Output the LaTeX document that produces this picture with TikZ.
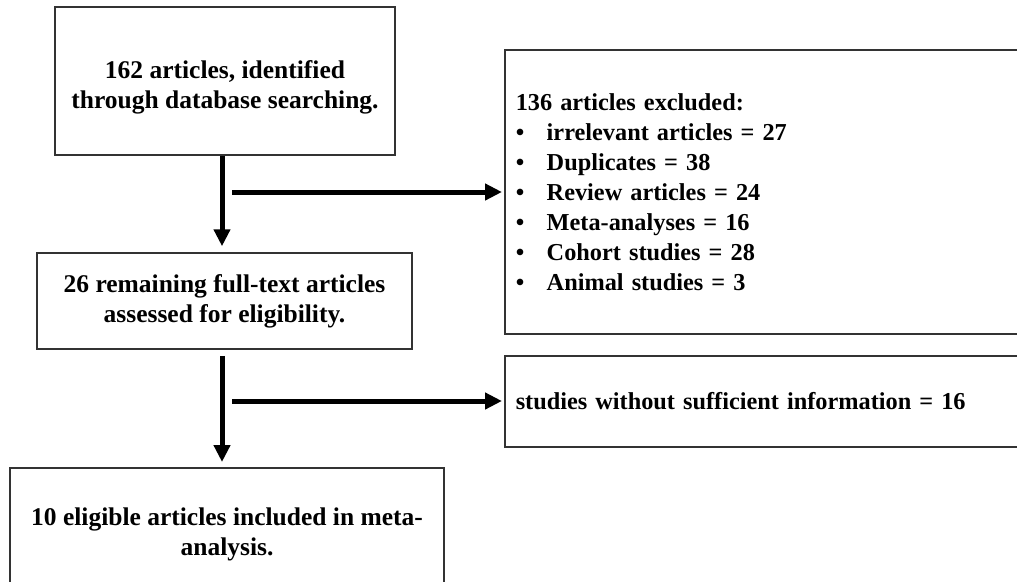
\documentclass[tikz,border=0pt]{standalone}
\usepackage{fontspec}
\setmainfont{Liberation Serif}
\usetikzlibrary{arrows.meta}
\tikzset{
  >={Triangle[length=17pt,width=16pt]},
  stage/.style = {draw=black!80, line width=1.5pt, fill=white,
                  align=center, inner sep=0,
                  font=\fontsize{25.5}{30}\selectfont\bfseries},
  sidebox/.style = {stage, align=left, anchor=north west,
                  text width=#1, inner xsep=11pt,
                  font=\fontsize{24.3}{30}\selectfont\bfseries},
  sidebox/.default = 505pt,
  flow/.style = {draw, line width=5pt, ->},
}

\begin{document}
\begin{tikzpicture}[x=1pt,y=1pt]
\useasboundingbox (0,0) rectangle (1017,-581);
\node[stage, minimum width=340pt, minimum height=148pt, text height=61pt, text depth=5.6pt] (ident) at (225,-81)
  {162 articles, identified\\through database searching.};
\node[stage, minimum width=375pt, minimum height=96pt] (full) at (224.5,-301)
  {26 remaining full-text articles\\assessed for eligibility.};
\node[stage, minimum width=434pt, minimum height=134pt, anchor=north] (incl) at (227,-467)
  {10 eligible articles included in meta-\\analysis.};
\node[sidebox, minimum height=284pt] (excl) at (504,-49)
  {136 articles excluded:\\
   \makebox[31pt][l]{\textbullet}irrelevant articles = 27\\
   \makebox[31pt][l]{\textbullet}Duplicates = 38\\
   \makebox[31pt][l]{\textbullet}Review articles = 24\\
   \makebox[31pt][l]{\textbullet}Meta-analyses = 16\\
   \makebox[31pt][l]{\textbullet}Cohort studies = 28\\
   \makebox[31pt][l]{\textbullet}Animal studies = 3};
\node[sidebox, minimum height=91pt] (insuf) at (504,-355)
  {studies without sufficient information = 16};
\coordinate (spine) at (222,0);
\coordinate (split1) at (232,-192);
\coordinate (split2) at (232,-401);
\draw[flow, shorten >=6pt] (ident.south -| spine) -- (full.north -| spine);
\draw[flow, shorten <=6pt, shorten >=5pt] (full.south -| spine) -- (incl.north -| spine);
\draw[flow, shorten >=2pt] (split1) -- (split1 -| excl.west);
\draw[flow, shorten >=2pt] (split2) -- (split2 -| insuf.west);
\end{tikzpicture}
\end{document}
